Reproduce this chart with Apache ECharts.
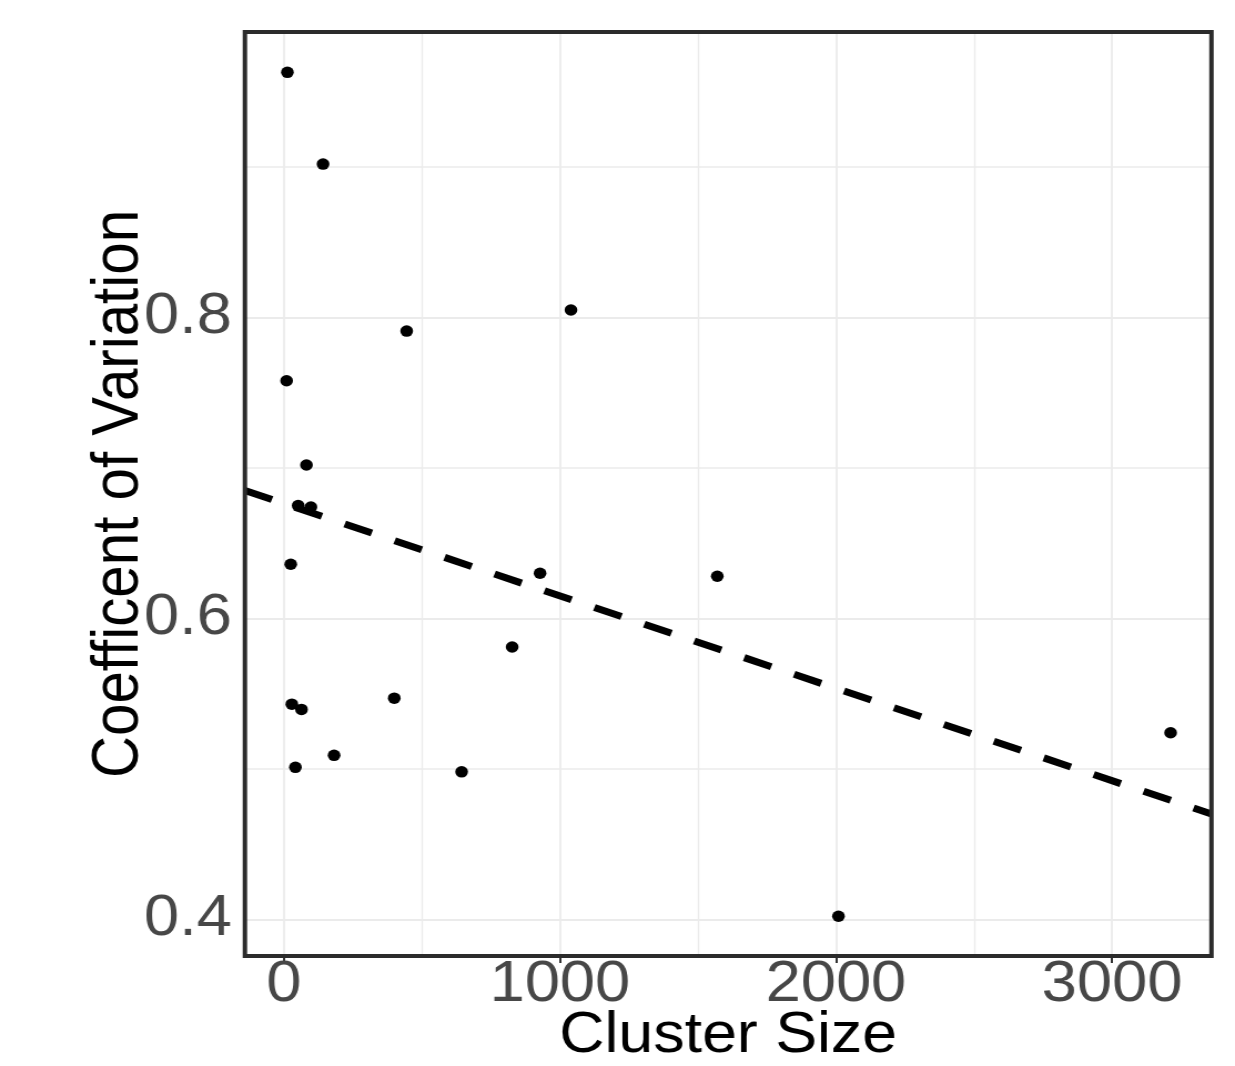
<!DOCTYPE html>
<html>
<head>
<meta charset="utf-8">
<script src="https://cdn.jsdelivr.net/npm/echarts@6/dist/echarts.min.js"></script>
<style>
html,body{margin:0;padding:0;background:#fff;overflow:hidden;}
#wrap{width:1235px;height:1066px;overflow:hidden;}
#chart{width:1113px;height:1066px;transform:scaleX(1.1096);transform-origin:0 0;}
</style>
</head>
<body>
<div id="wrap"><div id="chart"></div></div>
<script>
// Data
var clusterSize = [13, 142, 445, 1040, 10, 82, 52, 98, 25, 928, 1570, 827, 400, 29, 64, 182, 42, 644, 3212, 2009];
var coefVar     = [0.963, 0.902, 0.791, 0.805, 0.758, 0.702, 0.675, 0.674, 0.636, 0.630, 0.628, 0.581, 0.547, 0.543, 0.5395, 0.509, 0.501, 0.498, 0.524, 0.402];
var trendX = [-141, 3360];
var trendY = [0.685, 0.470];
var xTicks = [0, 1000, 2000, 3000];
var xMinor = [500, 1500, 2500];
var yTicks = [0.4, 0.6, 0.8];
var yMinor = [0.5, 0.7, 0.9];
var yRange = [0.3756, 0.9898];
var xTitle = 'Cluster Size';
var yTitle = 'Coefficent of Variation';

var FONT = '"Liberation Sans", Arial, Helvetica, sans-serif';
var W = 1113, H = 1066;
var G = {left: 220.7, top: 32, right: 21.2, bottom: 110};

var points = clusterSize.map(function (x, i) { return [x, coefVar[i]]; });
var trend = trendX.map(function (x, i) { return [x, trendY[i]]; });

var gridLines = [];
xMinor.forEach(function (v) { gridLines.push({xAxis: v, lineStyle: {color: '#ebebeb', width: 1.3, type: 'solid'}}); });
yMinor.forEach(function (v) { gridLines.push({yAxis: v, lineStyle: {color: '#ebebeb', width: 1.5, type: 'solid'}}); });
xTicks.forEach(function (v) { gridLines.push({xAxis: v, lineStyle: {color: '#ebebeb', width: 1.8, type: 'solid'}}); });
yTicks.forEach(function (v) { gridLines.push({yAxis: v, lineStyle: {color: '#ebebeb', width: 2, type: 'solid'}}); });

var chart = echarts.init(document.getElementById('chart'), null, {renderer: 'canvas', width: W, height: H});
chart.setOption({
  animation: false,
  backgroundColor: '#ffffff',
  grid: {left: G.left, top: G.top, right: G.right, bottom: G.bottom, show: false,
    containLabel: false, outerBoundsMode: 'none'},
  xAxis: {
    type: 'value', min: trendX[0], max: trendX[1],
    axisLine: {show: false},
    splitLine: {show: false},
    axisTick: {show: true, customValues: xTicks, length: 7, lineStyle: {color: '#333333', width: 2}},
    axisLabel: {customValues: xTicks, margin: 1, fontSize: 57, color: '#474747', fontFamily: FONT,
      formatter: function (v) { return String(v); }},
    name: xTitle, nameLocation: 'middle', nameGap: 52, nameMoveOverlap: false,
    nameTextStyle: {fontSize: 56.5, color: '#000000', fontFamily: FONT}
  },
  yAxis: {
    type: 'value', min: yRange[0], max: yRange[1],
    axisLine: {show: false},
    splitLine: {show: false},
    axisTick: {show: true, customValues: yTicks, length: 6.3, lineStyle: {color: '#333333', width: 2}},
    axisLabel: {customValues: yTicks, margin: 11.7, fontSize: 57, color: '#474747', fontFamily: FONT,
      formatter: function (v) { return String(Math.round(v * 10) / 10); }},
    name: yTitle, nameLocation: 'middle', nameGap: 83.5, nameMoveOverlap: false,
    nameTextStyle: {fontSize: 58.3, color: '#000000', fontFamily: FONT}
  },
  series: [
    {
      type: 'scatter', data: [], silent: true, z: 1,
      markLine: {silent: true, z: 1, symbol: ['none', 'none'], label: {show: false}, animation: false,
        emphasis: {disabled: true}, data: gridLines}
    },
    {
      type: 'line', data: trend, showSymbol: false, symbol: 'none', z: 3, silent: true,
      lineStyle: {color: '#000000', width: 7, type: [26, 22], opacity: 1}
    },
    {
      type: 'scatter', data: points, symbolSize: 11.5, z: 4,
      itemStyle: {color: '#000000', opacity: 1}
    }
  ],
  graphic: [{
    type: 'rect', z: 100, silent: true,
    shape: {x: G.left, y: G.top, width: W - G.left - G.right, height: H - G.top - G.bottom},
    style: {fill: 'none', stroke: '#2b2b2b', lineWidth: 4}
  }]
});
</script>
</body>
</html>
